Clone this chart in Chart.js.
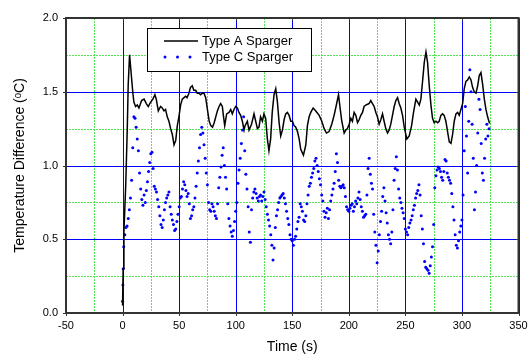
<!DOCTYPE html>
<html>
<head>
<meta charset="utf-8">
<script src="https://cdn.jsdelivr.net/npm/chart.js@4.4.0/dist/chart.umd.min.js"></script>
<style>
html,body{margin:0;padding:0;background:#fff;}
#wrap{width:528px;height:356px;}
</style>
</head>
<body>
<div id="wrap"><canvas id="c" width="528" height="356"></canvas></div>
<script>
// ---------- data ----------
const seriesNames = ['Type A Sparger', 'Type C Sparger'];
const xTitle = 'Time (s)';
const yTitle = 'Temperature Difference (\u1D52C)';

const xMajorTicks = [-50, 0, 50, 100, 150, 200, 250, 300, 350];
const xMinorTicks = [-25, 25, 75, 125, 175, 225, 275, 325];
const yMajorTicks = [0, 0.5, 1.0, 1.5, 2.0];
const yMinorTicks = [0.25, 0.75, 1.25, 1.75];

// Type A Sparger (solid line)
const aTime = [0, 0.5, 1.2, 2.8, 4.1, 5, 6.2, 7, 8, 9, 10, 11.5, 13, 14.5, 16.8, 19, 21, 22.7, 24.8, 26.8,
  28.6, 29.8, 31.6, 33.6, 35.1, 36.6, 38, 39.5, 41, 42.5, 44, 45.5, 47, 48.4, 50, 51.3, 52.8, 54.3, 55.7, 57,
  58.7, 60, 61.6, 63, 64.6, 66, 67.5, 69, 70.5, 72, 73.5, 75, 76.6, 78, 79.5, 81, 83.8, 85.3, 86.7, 88.2,
  89.1, 90.3, 92, 94.1, 95.6, 97, 98.5, 100, 101.5, 102.9, 104.4, 105.9, 107.4, 108.3, 110.3, 111.8, 114, 116.2, 117.7, 119.2,
  120.6, 122, 123.6, 125, 126.5, 128, 129.4, 130.9, 132.3, 133.9, 135.4, 136.9, 138.4, 139.8, 141.3, 142.8, 144.2, 145.7, 147.2, 148.7,
  150.2, 151.6, 153.1, 154.6, 156.1, 157.5, 159.9, 162, 163.4, 164.9, 166.4, 168.5, 170.8, 173.8, 176.1, 178.2, 180.2, 182.6, 184.9, 187,
  189, 190.9, 192.3, 193.8, 195.9, 197.3, 198.8, 200.3, 201.8, 203.2, 204.7, 206.2, 207.7, 209.1, 210.6, 212.1, 213.5, 215, 217.9, 219.4,
  220.9, 222.4, 223.9, 225.3, 226.8, 228.3, 229.8, 231.2, 232.7, 234.2, 235.6, 237.1, 238.6, 240.1, 241.6, 243.1, 244.5, 246, 247.5, 249,
  251.3, 253.4, 255.5, 257.2, 259.3, 260.8, 262.3, 263.7, 265.2, 266.7, 268.2, 269.6, 271.1, 272.6, 274, 275.5, 277, 278.5, 279.9, 281.4,
  282.9, 284.3, 285.8, 287.3, 288.8, 290.3, 291.7, 293.2, 294.7, 296.2, 297.6, 299.1, 300.6, 302, 303.5, 305, 306.5, 308, 309.4, 310.9,
  312.4, 313.9, 315.3, 316.8, 318.3, 319.8, 321.2, 322.7, 324.2, 325];
const aTemp = [0.05, 0.30, 0.55, 0.87, 1.23, 1.55, 1.75, 1.68, 1.59, 1.50, 1.43, 1.40, 1.41, 1.39, 1.44, 1.45, 1.42, 1.40, 1.43, 1.45,
  1.48, 1.45, 1.37, 1.40, 1.39, 1.37, 1.38, 1.33, 1.30, 1.25, 1.21, 1.14, 1.17, 1.27, 1.34, 1.41, 1.45, 1.46, 1.47, 1.46,
  1.49, 1.53, 1.54, 1.51, 1.51, 1.49, 1.49, 1.48, 1.49, 1.49, 1.46, 1.38, 1.30, 1.27, 1.26, 1.29, 1.37, 1.40, 1.42, 1.40,
  1.34, 1.27, 1.35, 1.36, 1.38, 1.35, 1.38, 1.40, 1.39, 1.36, 1.34, 1.30, 1.24, 1.27, 1.30, 1.24, 1.28, 1.35, 1.30, 1.25,
  1.26, 1.33, 1.30, 1.35, 1.32, 1.18, 1.10, 1.18, 1.36, 1.48, 1.52, 1.43, 1.29, 1.20, 1.24, 1.31, 1.35, 1.36, 1.34, 1.30,
  1.30, 1.27, 1.26, 1.23, 1.18, 1.11, 1.07, 1.14, 1.27, 1.33, 1.36, 1.39, 1.37, 1.34, 1.30, 1.25, 1.22, 1.23, 1.28, 1.34,
  1.41, 1.48, 1.39, 1.30, 1.22, 1.24, 1.25, 1.28, 1.32, 1.30, 1.36, 1.34, 1.29, 1.31, 1.34, 1.36, 1.40, 1.41, 1.42, 1.44,
  1.42, 1.40, 1.36, 1.33, 1.28, 1.31, 1.35, 1.30, 1.25, 1.22, 1.24, 1.28, 1.34, 1.40, 1.44, 1.46, 1.42, 1.39, 1.34, 1.26,
  1.18, 1.20, 1.27, 1.36, 1.45, 1.43, 1.41, 1.45, 1.57, 1.70, 1.77, 1.70, 1.54, 1.41, 1.32, 1.29, 1.30, 1.29, 1.30, 1.34,
  1.35, 1.34, 1.30, 1.23, 1.16, 1.15, 1.21, 1.30, 1.35, 1.36, 1.34, 1.38, 1.42, 1.52, 1.57, 1.58, 1.60, 1.58, 1.53, 1.50,
  1.49, 1.54, 1.61, 1.63, 1.55, 1.45, 1.38, 1.33, 1.29, 1.29];

// Type C Sparger (dots): fast start-up samples, then one sample per second from t = 1 s
const cStartTime = [0, 0.3, 0.6];
const cStartTemp = [0.08, 0.19, 0.30];
const cFirstSecond = 1;
const cTemp = [
  0.45, 0.53, 0.58, 0.59, 0.64, 0.70, 0.78, 0.90, 1.12, 1.33,
  1.32, 1.26, 1.18, 1.10, 0.95, 0.84, 0.77, 0.73, 0.80, 0.75,
  0.83, 0.89, 0.96, 1.02, 1.08, 1.09, 0.98, 0.86, 0.84, 0.82,
  0.77, 0.72, 0.66, 0.60, 0.58, 0.63, 0.70, 0.75, 0.78, 0.80,
  0.82, 0.72, 0.67, 0.63, 0.60, 0.56, 0.57, 0.62, 0.67, 0.72,
  0.78, 0.79, 0.84, 0.89, 0.87, 0.83, 0.79, 0.81, 0.74, 0.64,
  0.66, 0.70, 0.72, 0.78, 0.86, 0.95, 1.03, 1.12, 1.21, 1.26,
  1.22, 1.14, 1.05, 0.95, 0.87, 0.75, 0.70, 0.69, 0.74, 0.72,
  0.69, 0.66, 0.64, 0.74, 0.85, 0.92, 0.99, 1.07, 1.12, 1.00,
  0.92, 0.84, 0.74, 0.64, 0.59, 0.55, 0.52, 0.56, 0.62, 0.69,
  0.75, 0.88, 0.97, 1.05, 1.15, 1.24, 1.33, 1.10, 0.94, 0.84,
  0.72, 0.55, 0.48, 0.70, 0.78, 0.82, 0.84, 0.81, 0.78, 0.76,
  0.79, 0.80, 0.76, 0.79, 0.82, 0.77, 0.72, 0.67, 0.63, 0.59,
  0.53, 0.46, 0.36, 0.44, 0.58, 0.66, 0.70, 0.75, 0.78, 0.79,
  0.80, 0.81, 0.78, 0.74, 0.69, 0.64, 0.60, 0.53, 0.50, 0.49,
  0.46, 0.50, 0.52, 0.57, 0.62, 0.65, 0.74, 0.72, 0.69, 0.63,
  0.62, 0.66, 0.74, 0.80, 0.86, 0.88, 0.92, 0.95, 0.98, 1.03,
  1.05, 1.00, 0.96, 0.91, 0.87, 0.80, 0.76, 0.69, 0.65, 0.68,
  0.71, 0.64, 0.70, 0.76, 0.80, 0.84, 0.88, 0.96, 1.08, 1.02,
  0.90, 0.86, 0.85, 0.86, 0.87, 0.85, 0.79, 0.72, 0.70, 0.69,
  0.71, 0.73, 0.74, 0.69, 0.72, 0.76, 0.74, 0.78, 0.82, 0.77,
  0.72, 0.69, 0.65, 0.66, 0.67, 0.80, 0.98, 1.05, 0.94, 0.88,
  0.84, 0.67, 0.55, 0.46, 0.34, 0.42, 0.53, 0.62, 0.69, 0.79,
  0.85, 0.76, 0.68, 0.61, 0.53, 0.50, 0.47, 0.55, 0.70, 0.90,
  0.98, 1.06, 0.97, 0.84, 0.78, 0.75, 0.71, 0.68, 0.64, 0.57,
  0.55, 0.53, 0.58, 0.61, 0.63, 0.66, 0.70, 0.73, 0.78, 0.81,
  0.83, 0.87, 0.80, 0.66, 0.57, 0.47, 0.35, 0.31, 0.30, 0.29,
  0.27, 0.32, 0.38, 0.45, 0.60, 0.85, 0.93, 0.97, 0.99, 0.98,
  0.96, 0.92, 0.90, 0.96, 1.04, 1.03, 0.95, 0.92, 0.90, 0.88,
  0.81, 0.72, 0.63, 0.53, 0.46, 0.44, 0.49, 0.55, 0.59, 0.63,
  0.80, 1.10, 1.40, 1.20, 0.95, 1.30, 1.65, 1.50, 1.28, 1.05,
  0.70, 0.82, 1.00, 1.22, 1.45, 1.38, 1.15, 0.95, 0.90, 1.05,
  1.18, 1.28, 1.20, 1.25];

// ---------- build datasets ----------
const aPoints = aTime.map((t, i) => ({x: t, y: aTemp[i]}));
const cPoints = cStartTime.map((t, i) => ({x: t, y: cStartTemp[i]}))
  .concat(cTemp.map((v, i) => ({x: cFirstSecond + i, y: v})));

const FONT = '"Liberation Sans", Arial, Helvetica, sans-serif';
const BLUE = '#0000ff';
const GREEN = '#55e455';

const framePlugin = {
  id: 'framePlugin',
  beforeDatasetsDraw(chart) {
    const {ctx, chartArea: a, scales: {x, y}} = chart;
    ctx.save();
    ctx.lineWidth = 1;
    // minor dotted green grid
    ctx.strokeStyle = GREEN;
    ctx.setLineDash([2, 1]);
    ctx.beginPath();
    xMinorTicks.forEach(v => { const p = Math.round(x.getPixelForValue(v)) + 0.5; ctx.moveTo(p, a.top); ctx.lineTo(p, a.bottom); });
    yMinorTicks.forEach(v => { const p = Math.round(y.getPixelForValue(v)) + 0.5; ctx.moveTo(a.left, p); ctx.lineTo(a.right, p); });
    ctx.stroke();
    // major solid blue grid
    ctx.setLineDash([]);
    ctx.strokeStyle = BLUE;
    ctx.beginPath();
    xMajorTicks.forEach(v => { const p = Math.round(x.getPixelForValue(v)) + 0.5; ctx.moveTo(p, a.top); ctx.lineTo(p, a.bottom); });
    yMajorTicks.forEach(v => { const p = Math.round(y.getPixelForValue(v)) + 0.5; ctx.moveTo(a.left, p); ctx.lineTo(a.right, p); });
    ctx.stroke();
    ctx.restore();
  },
  afterDatasetsDraw(chart) {
    const {ctx, chartArea: a, scales: {x, y}} = chart;
    ctx.save();
    ctx.strokeStyle = '#333';
    ctx.lineWidth = 2;
    ctx.strokeRect(a.left, a.top, a.right - a.left, a.bottom - a.top);
    ctx.lineWidth = 1;
    ctx.beginPath();
    xMajorTicks.forEach(v => { const p = Math.round(x.getPixelForValue(v)) + 0.5; ctx.moveTo(p, a.bottom); ctx.lineTo(p, a.bottom + 3); ctx.moveTo(p, a.top); ctx.lineTo(p, a.top + 3); });
    yMajorTicks.forEach(v => { const p = Math.round(y.getPixelForValue(v)) + 0.5; ctx.moveTo(a.left - 3, p); ctx.lineTo(a.left, p); ctx.moveTo(a.right - 3, p); ctx.lineTo(a.right, p); });
    ctx.stroke();
    // legend box
    const lx = 147.5, ly = 28.5, lw = 164, lh = 43;
    ctx.fillStyle = '#fff';
    ctx.fillRect(lx, ly, lw, lh);
    ctx.strokeStyle = '#000';
    ctx.lineWidth = 1;
    ctx.strokeRect(lx, ly, lw, lh);
    ctx.strokeStyle = '#000';
    ctx.lineWidth = 1.5;
    ctx.beginPath(); ctx.moveTo(164, 41); ctx.lineTo(198, 41); ctx.stroke();
    ctx.fillStyle = BLUE;
    [165, 177.5, 190].forEach(px => { ctx.beginPath(); ctx.arc(px, 57, 1.5, 0, Math.PI * 2); ctx.fill(); });
    ctx.fillStyle = '#000';
    ctx.font = '13px ' + FONT;
    ctx.textBaseline = 'middle';
    ctx.textAlign = 'left';
    ctx.fillText(seriesNames[0], 202, 41);
    ctx.fillText(seriesNames[1], 202, 57);
    ctx.restore();
  }
};

new Chart(document.getElementById('c'), {
  type: 'scatter',
  data: {
    datasets: [
      {label: seriesNames[0], data: aPoints, showLine: true, borderColor: '#000', borderWidth: 1.5,
       pointRadius: 0, tension: 0, fill: false},
      {label: seriesNames[1], data: cPoints, showLine: false, backgroundColor: BLUE, borderWidth: 0,
       pointRadius: 1.5, pointHoverRadius: 1.5}
    ]
  },
  options: {
    responsive: false,
    animation: false,
    devicePixelRatio: 1,
    layout: {padding: {top: 18, right: 9.5, left: 0, bottom: 0}},
    plugins: {legend: {display: false}, tooltip: {enabled: false}},
    scales: {
      x: {
        type: 'linear', min: -50, max: 350,
        afterBuildTicks: s => { s.ticks = xMajorTicks.map(v => ({value: v})); },
        ticks: {color: '#000', font: {family: FONT, size: 11}, padding: 6, maxRotation: 0, autoSkip: false},
        grid: {display: false, drawTicks: false},
        border: {display: false},
        title: {display: true, text: xTitle, color: '#000', font: {family: FONT, size: 14}, padding: {top: 0, bottom: 0}},
        afterFit: s => { s.height = 43; s.paddingLeft = 0; s.paddingRight = 0; }
      },
      y: {
        type: 'linear', min: 0, max: 2,
        afterBuildTicks: s => { s.ticks = yMajorTicks.map(v => ({value: v})); },
        ticks: {color: '#000', font: {family: FONT, size: 11}, padding: 8, callback: v => Number(v).toFixed(1)},
        grid: {display: false, drawTicks: false},
        border: {display: false},
        title: {display: true, text: yTitle, color: '#000', font: {family: FONT, size: 14}, padding: {top: 12, bottom: 0}},
        afterFit: s => { s.width = 66; s.paddingTop = 0; s.paddingBottom = 0; }
      }
    }
  },
  plugins: [framePlugin]
});
</script>
</body>
</html>
